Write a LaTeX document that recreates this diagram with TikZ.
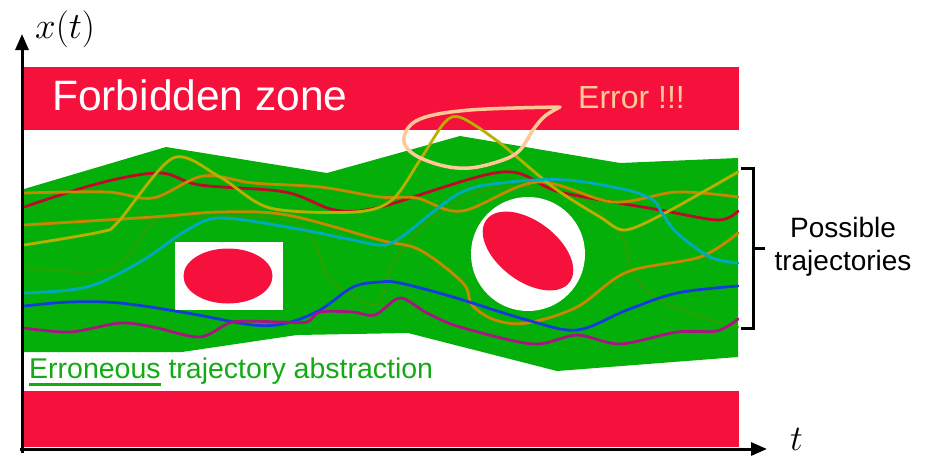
\RequirePackage{fix-cm}
\documentclass[tikz,border=0pt]{standalone}
\usepackage{fontspec}
\newfontfamily\lsans{Liberation Sans}
\usetikzlibrary{arrows.meta}
\definecolor{zonered}{RGB}{245,17,60}
\definecolor{absgreen}{RGB}{5,175,10}
\definecolor{txtgreen}{RGB}{20,170,20}
\definecolor{trred}{RGB}{190,10,40}
\definecolor{tryellow}{RGB}{185,175,0}
\definecolor{trorange}{RGB}{200,135,0}
\definecolor{trcyan}{RGB}{0,170,190}
\definecolor{trblue}{RGB}{20,60,220}
\definecolor{trpurple}{RGB}{170,20,130}
\definecolor{trfaint}{RGB}{45,160,0}
\definecolor{peach}{RGB}{255,200,150}
\tikzset{
  traj/.style={line width=2.8pt, line cap=round, line join=round},
  axisline/.style={line width=3pt, -{Triangle[length=16pt,width=13pt]}},
  lbl/.style={inner sep=0pt, anchor=base west},
}
\begin{document}
\begin{tikzpicture}[x=1pt,y=-1pt]
\useasboundingbox (0,0) rectangle (931,456);
% forbidden zones
\fill[zonered] (24,67) rectangle (739,130);
\fill[zonered] (24,391) rectangle (739,447);
% abstraction polygon
\fill[absgreen] (24,189) -- (166,147) -- (327,173) -- (460,136) -- (620,163) -- (738,158)
  -- (738,357) -- (557,371) -- (408,333) -- (297,335) -- (182,352) -- (24,352) -- cycle;
% obstacles
\fill[white] (175,242) rectangle (283,310);
\fill[zonered] (228,276) ellipse [x radius=44.5, y radius=27.5];
\fill[white] (528,254) circle [radius=57];
\fill[zonered, shift={(528,251)}, rotate=-37] (0,0) ellipse [x radius=52, y radius=30];
% trajectories
\draw[traj, trfaint, line width=2pt] plot[smooth, tension=0.55] coordinates {(24,268) (87,272) (120,263) (153,223) (175,216) (220,216) (287,220) (313,240) (330,280) (367,303) (380,301) (393,263) (427,223) (477,193) (527,187) (577,197) (620,233) (633,273) (660,300) (710,320) (738,327)};
\draw[traj, trred] plot[smooth, tension=0.55] coordinates {(24,207) (100,183) (160,173) (200,185) (285,192) (335,210) (380,207) (502,172) (560,192) (660,210) (718,220) (738,211)};
\draw[traj, trorange] plot[smooth, tension=0.55] coordinates {(24,193) (107,192) (153,198) (203,176) (253,183) (320,187) (380,197) (417,198) (462,211) (537,182) (613,202) (677,192) (738,197)};
\draw[traj, trorange] plot[smooth, tension=0.55] coordinates {(24,225) (153,217) (220,212) (287,215) (380,240) (420,250) (463,283) (472,305) (495,320) (527,323) (577,307) (627,272) (700,257) (738,233)};
\draw[traj, tryellow] plot[smooth, tension=0.5] coordinates {(24,245) (100,232) (118,222) (173,158) (220,177) (270,208) (355,212) (392,200) (420,160) (445,122) (462,118) (500,143) (553,187) (600,217) (625,230) (665,213) (738,172)};
\draw[traj, trcyan] plot[smooth, tension=0.55] coordinates {(24,293) (87,287) (140,262) (187,230) (220,218) (287,227) (353,240) (380,245) (400,238) (460,193) (510,182) (567,180) (627,190) (653,200) (662,213) (677,233) (710,257) (738,263)};
\draw[traj, trblue] plot[smooth, tension=0.55] coordinates {(24,306) (70,302) (120,303) (187,313) (253,325) (287,323) (320,310) (353,287) (380,282) (400,283) (453,297) (527,320) (577,330) (627,310) (677,293) (738,286)};
\draw[traj, trpurple] plot[smooth, tension=0.5] coordinates {(24,328) (70,332) (120,323) (153,327) (200,337) (233,322) (280,322) (307,322) (320,312) (353,312) (375,315) (400,298) (427,313) (460,327) (533,344) (577,335) (620,344) (677,332) (717,331) (738,319)};
% error loop
\draw[peach, line width=3.5pt, line cap=round, line join=round] plot[smooth, tension=0.6] coordinates {(560,107) (470,110) (420,119) (404,137) (412,153) (440,165) (470,168) (503,160) (520,150) (533,130) (545,116) (560,107)};
% axes
\coordinate (orig) at (22,449);
\coordinate (ytip) at (22,34);
\coordinate (xtip) at (767,449);
\draw[axisline] (22,453) -- (ytip);
\draw[axisline] (20,449) -- (xtip);
\node[lbl] (xlab) at (35,38) {\fontsize{37}{40}\selectfont$x(t)$};
\node[lbl] (tlab) at (790,450) {\fontsize{36}{40}\selectfont$t$};
% texts
\node[lbl, text=white] (fz) at (52,110) {\lsans\fontsize{42.5}{50}\selectfont Forbidden zone};
\node[lbl, text=peach] (err) at (578,108) {\lsans\fontsize{32}{38}\selectfont Error !!!};
\node[lbl, text=txtgreen] (abs) at (29,378) {\lsans\fontsize{28.5}{34}\selectfont Erroneous trajectory abstraction};
\draw[txtgreen, line width=3pt] (29,384) -- (161,384);
% bracket
\coordinate (bt) at (753,168);
\coordinate (bb) at (753,328);
\coordinate (bm) at (753,248);
\draw[line width=3pt] (741,168) -- (bt) -- (bb) -- (741,328);
\draw[line width=3pt] (bm) -- (765,248);
\node[inner sep=0pt, anchor=base] (poss1) at (843,237) {\lsans\fontsize{28}{33}\selectfont Possible};
\node[inner sep=0pt, anchor=base] (poss2) at (843,270) {\lsans\fontsize{28}{33}\selectfont trajectories};
\end{tikzpicture}
\end{document}
